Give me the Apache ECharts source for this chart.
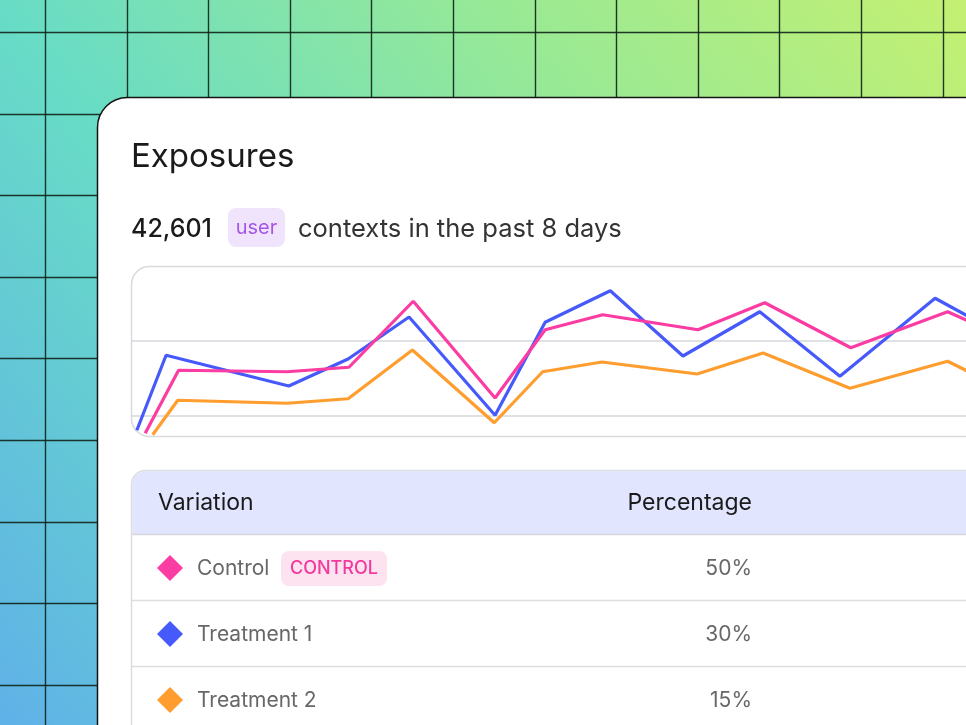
<!DOCTYPE html>
<html lang="en">
<head>
    <meta charset="UTF-8">
    <title>Exposures</title>
    <script src="https://cdn.jsdelivr.net/npm/echarts@6/dist/echarts.min.js"></script>
    <style>
        html, body { margin: 0; padding: 0; }
    </style>
</head>
<body>

<div id="main" style="width: 966px;height:725px;"></div>

<script type="text/javascript">
    // x = position along the window (0..100 visible), y = exposures
    var controlData = [[1.7, 770], [5.7, 1610], [18.7, 1590], [26.1, 1650], [33.8, 2530], [43.6, 1240],
        [49.6, 2150], [56.5, 2350], [67.9, 2150], [75.9, 2510], [86.2, 1910], [97.8, 2390], [106.5, 1960]];
    var treatment1Data = [[0.7, 810], [4.2, 1810], [18.9, 1400], [26.0, 1760], [33.3, 2320], [43.6, 1010],
        [49.6, 2250], [57.4, 2670], [66.1, 1800], [75.3, 2390], [84.9, 1530], [96.3, 2570], [106.5, 1950]];
    var treatment2Data = [[2.6, 750], [5.6, 1210], [18.7, 1170], [26.0, 1230], [33.7, 1880], [43.5, 910],
        [49.3, 1590], [56.4, 1720], [67.8, 1560], [75.7, 1840], [86.1, 1370], [97.8, 1730], [106.5, 1250]];

    // table
    var variations = ['Control', 'Treatment 1', 'Treatment 2'];
    var percentages = ['50%', '30%', '15%'];
    var colors = ['#fb3ca2', '#4659fb', '#ff9d2f'];

    var font = 'Inter';
    var graphics = [];

    // background with grid
    graphics.push({
        type: 'rect', shape: {x: 0, y: 0, width: 966, height: 725},
        style: {fill: {type: 'linear', x: 0, y: 1, x2: 1, y2: 0, colorStops: [
            {offset: 0, color: '#5fb1e8'},
            {offset: 0.36, color: '#68dcc6'},
            {offset: 0.68, color: '#97e996'},
            {offset: 1, color: '#c4f072'}
        ]}}
    });
    for (var i = 0; i < 12; i++) {
        var gx = Math.round(45 + 81.6 * i) + 0.5;
        graphics.push({type: 'line', shape: {x1: gx, y1: 0, x2: gx, y2: 725}, style: {stroke: 'rgba(15,35,25,0.9)', lineWidth: 1.4}});
    }
    for (var j = 0; j < 9; j++) {
        var gy = Math.round(32 + 81.6 * j) + 0.5;
        graphics.push({type: 'line', shape: {x1: 0, y1: gy, x2: 966, y2: gy}, style: {stroke: 'rgba(15,35,25,0.9)', lineWidth: 1.4}});
    }

    // card
    graphics.push({
        type: 'rect', shape: {x: 97.5, y: 97.5, width: 1000, height: 800, r: [30, 0, 0, 0]},
        style: {fill: '#ffffff', stroke: '#141414', lineWidth: 1.5}
    });
    graphics.push({type: 'text', x: 131, y: 157, style: {text: 'Exposures', fontFamily: font, fontSize: 33, fill: '#1a1a1a',
        textVerticalAlign: 'middle', verticalAlign: 'middle'}});
    graphics.push({type: 'text', x: 131, y: 229, style: {text: '42,601', fontFamily: font, fontSize: 25, fontWeight: 500, fill: '#1a1a1a',
        textVerticalAlign: 'middle', verticalAlign: 'middle'}});
    graphics.push({type: 'rect', shape: {x: 228, y: 208, width: 57, height: 39, r: 8}, style: {fill: '#f0e4fc'}});
    graphics.push({type: 'text', x: 256.5, y: 228, style: {text: 'user', fontFamily: font, fontSize: 20, fill: '#a457e6',
        textAlign: 'center', align: 'center', textVerticalAlign: 'middle', verticalAlign: 'middle'}});
    graphics.push({type: 'text', x: 298, y: 229, style: {text: 'contexts in the past 8 days', fontFamily: font, fontSize: 25.5, fill: '#333333',
        textVerticalAlign: 'middle', verticalAlign: 'middle'}});

    // chart box
    graphics.push({
        type: 'rect', shape: {x: 131.5, y: 266.5, width: 900, height: 170, r: 18},
        style: {fill: '#ffffff', stroke: '#d9dadd', lineWidth: 1.5}
    });

    // table
    graphics.push({
        type: 'rect', shape: {x: 131.5, y: 470.5, width: 900, height: 300, r: [14, 0, 0, 0]},
        style: {fill: '#ffffff', stroke: '#dcdde0', lineWidth: 1.5}
    });
    graphics.push({
        type: 'rect', shape: {x: 132.25, y: 471.25, width: 900, height: 63, r: [13, 0, 0, 0]},
        style: {fill: '#e1e5fd'}
    });
    graphics.push({type: 'line', shape: {x1: 132, y1: 534.5, x2: 966, y2: 534.5}, style: {stroke: '#d6d8de', lineWidth: 1.5}});
    graphics.push({type: 'text', x: 158, y: 503, style: {text: 'Variation', fontFamily: font, fontSize: 23, fill: '#1a1a1a',
        textVerticalAlign: 'middle', verticalAlign: 'middle'}});
    graphics.push({type: 'text', x: 752, y: 503, style: {text: 'Percentage', fontFamily: font, fontSize: 23, fill: '#1a1a1a',
        textAlign: 'right', align: 'right', textVerticalAlign: 'middle', verticalAlign: 'middle'}});

    for (var k = 0; k < variations.length; k++) {
        var cy = 568 + k * 66;
        if (k > 0) {
            graphics.push({type: 'line', shape: {x1: 132, y1: cy - 33.5, x2: 966, y2: cy - 33.5}, style: {stroke: '#dcdde0', lineWidth: 1.5}});
        }
        graphics.push({type: 'polygon', shape: {points: [[170, cy - 13], [183, cy], [170, cy + 13], [157, cy]]}, style: {fill: colors[k]}});
        graphics.push({type: 'text', x: 197, y: cy + 1, style: {text: variations[k], fontFamily: font, fontSize: 21, fill: '#676767',
            textVerticalAlign: 'middle', verticalAlign: 'middle'}});
        graphics.push({type: 'text', x: 752, y: cy + 1, style: {text: percentages[k], fontFamily: font, fontSize: 21, fill: '#676767',
            textAlign: 'right', align: 'right', textVerticalAlign: 'middle', verticalAlign: 'middle'}});
    }
    // control badge
    graphics.push({type: 'rect', shape: {x: 281, y: 551, width: 106, height: 35, r: 8}, style: {fill: '#fde2f0'}});
    graphics.push({type: 'text', x: 334, y: 569, style: {text: 'CONTROL', fontFamily: font, fontSize: 18, fontWeight: 500, fill: '#f23a9e',
        textAlign: 'center', align: 'center', textVerticalAlign: 'middle', verticalAlign: 'middle'}});

    var myChart = echarts.init(document.getElementById('main'));

    var option = {
        animation: false,
        graphic: {elements: graphics},
        grid: {left: 131, right: 0, top: 266, height: 225},
        xAxis: {type: 'value', min: 0, max: 100, show: false},
        yAxis: {
            type: 'value', min: 0, max: 3000, interval: 1000, z: 3,
            axisLabel: {show: false}, axisLine: {show: false}, axisTick: {show: false},
            splitLine: {show: true, showMinLine: false, showMaxLine: false, lineStyle: {color: '#d5d7dc', width: 1.5}}
        },
        series: [
            {name: 'Treatment 2', type: 'line', data: treatment2Data, showSymbol: false, z: 5,
                lineStyle: {color: colors[2], width: 3.2}},
            {name: 'Treatment 1', type: 'line', data: treatment1Data, showSymbol: false, z: 6,
                lineStyle: {color: colors[1], width: 3.2}},
            {name: 'Control', type: 'line', data: controlData, showSymbol: false, z: 7,
                lineStyle: {color: colors[0], width: 3.2}}
        ]
    };
    myChart.setOption(option);
</script>
</body>
</html>
